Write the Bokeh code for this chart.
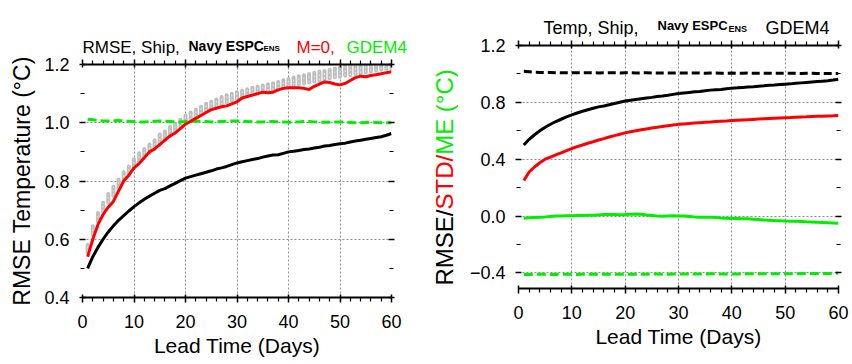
import math
from bokeh.plotting import figure
from bokeh.layouts import row, column
from bokeh.models import Range1d, LinearAxis, FixedTicker, CustomJSTickFormatter
from bokeh.core.properties import value
from bokeh.embed import file_html
from bokeh.resources import INLINE

# ---------------- data ----------------
days = list(range(1, 61))

x_major = [0, 10, 20, 30, 40, 50, 60]
x_minor = [2, 4, 6, 8, 12, 14, 16, 18, 22, 24, 26, 28, 32, 34, 36, 38, 42, 44, 46, 48,
           52, 54, 56, 58]
yl_major = [0.4, 0.6, 0.8, 1.0, 1.2]
yl_minor = [0.5, 0.7, 0.9, 1.1]
yr_major = [-0.4, 0.0, 0.4, 0.8, 1.2]
yr_minor = [-0.2, 0.2, 0.6, 1.0]

# ensemble-mean RMSE (black solid, both panels)
rmse_mean = [0.500, 0.540, 0.572, 0.600, 0.625, 0.646, 0.665, 0.681, 0.697, 0.712,
             0.725, 0.737, 0.748, 0.758, 0.768, 0.774, 0.783, 0.792, 0.801, 0.810,
             0.815, 0.820, 0.825, 0.830, 0.835, 0.841, 0.845, 0.850, 0.856, 0.862,
             0.866, 0.870, 0.874, 0.877, 0.882, 0.886, 0.889, 0.890, 0.895, 0.900,
             0.902, 0.905, 0.908, 0.910, 0.913, 0.916, 0.920, 0.922, 0.925, 0.928,
             0.930, 0.934, 0.937, 0.940, 0.943, 0.946, 0.949, 0.952, 0.957, 0.963]

# control member M=0 RMSE (red, left)
rmse_m0 = [0.540, 0.600, 0.650, 0.685, 0.710, 0.730, 0.765, 0.800, 0.820, 0.845,
           0.860, 0.880, 0.900, 0.910, 0.925, 0.940, 0.955, 0.965, 0.980, 0.995,
           1.005, 1.015, 1.025, 1.035, 1.045, 1.050, 1.055, 1.058, 1.065, 1.072,
           1.085, 1.090, 1.095, 1.100, 1.105, 1.103, 1.105, 1.113, 1.118, 1.120,
           1.120, 1.120, 1.118, 1.114, 1.125, 1.133, 1.140, 1.138, 1.133, 1.130,
           1.135, 1.145, 1.155, 1.160, 1.158, 1.162, 1.165, 1.168, 1.172, 1.175]

# spread of the individual members' RMSE (grey)
ens_lo = [0.555, 0.615, 0.660, 0.695, 0.725, 0.750, 0.775, 0.800, 0.820, 0.845,
          0.865, 0.880, 0.895, 0.910, 0.925, 0.940, 0.955, 0.970, 0.985, 1.000,
          1.010, 1.020, 1.030, 1.040, 1.048, 1.055, 1.062, 1.070, 1.076, 1.082,
          1.088, 1.093, 1.097, 1.100, 1.104, 1.108, 1.112, 1.116, 1.120, 1.124,
          1.128, 1.132, 1.135, 1.138, 1.142, 1.146, 1.150, 1.153, 1.156, 1.158,
          1.161, 1.164, 1.167, 1.170, 1.173, 1.176, 1.179, 1.182, 1.185, 1.187]
ens_hi = [0.580, 0.645, 0.690, 0.725, 0.755, 0.780, 0.805, 0.830, 0.850, 0.875,
          0.895, 0.910, 0.925, 0.940, 0.960, 0.970, 0.985, 0.995, 1.010, 1.025,
          1.035, 1.045, 1.055, 1.065, 1.072, 1.080, 1.088, 1.094, 1.100, 1.106,
          1.110, 1.115, 1.120, 1.124, 1.128, 1.132, 1.136, 1.140, 1.146, 1.150,
          1.155, 1.160, 1.163, 1.167, 1.172, 1.175, 1.178, 1.182, 1.186, 1.190,
          1.193, 1.196, 1.199, 1.202, 1.205, 1.207, 1.209, 1.211, 1.213, 1.215]

# GDEM4 climatology RMSE (green dashed, left)
rmse_gdem4 = [1.012, 1.010, 1.008, 1.006, 1.006, 1.007, 1.008, 1.006, 1.005, 1.004,
              1.003, 1.003, 1.004, 1.005, 1.006, 1.005, 1.004, 1.003, 1.003, 1.004,
              1.005, 1.006, 1.005, 1.004, 1.003, 1.003, 1.004, 1.005, 1.006, 1.006,
              1.005, 1.004, 1.003, 1.003, 1.003, 1.004, 1.004, 1.003, 1.003, 1.002,
              1.002, 1.003, 1.004, 1.004, 1.003, 1.002, 1.002, 1.002, 1.003, 1.003,
              1.002, 1.001, 1.000, 1.000, 1.001, 1.002, 1.001, 1.000, 1.000, 1.000]

# right panel
std_mean = [0.250, 0.310, 0.345, 0.375, 0.400, 0.415, 0.430, 0.445, 0.460, 0.475,
            0.488, 0.500, 0.512, 0.523, 0.535, 0.545, 0.556, 0.566, 0.575, 0.585,
            0.593, 0.600, 0.607, 0.613, 0.619, 0.625, 0.630, 0.635, 0.640, 0.645,
            0.648, 0.651, 0.654, 0.657, 0.660, 0.662, 0.665, 0.667, 0.669, 0.672,
            0.674, 0.676, 0.678, 0.680, 0.682, 0.684, 0.686, 0.688, 0.690, 0.692,
            0.693, 0.695, 0.697, 0.698, 0.700, 0.702, 0.703, 0.704, 0.705, 0.707]
me_mean = [-0.015, -0.012, -0.010, -0.008, -0.006, -0.003, 0.000, 0.001, 0.002, 0.002,
           0.003, 0.004, 0.005, 0.006, 0.008, 0.010, 0.011, 0.010, 0.009, 0.010,
           0.012, 0.014, 0.012, 0.008, 0.004, 0.000, -0.002, 0.000, 0.002, 0.001,
           0.000, -0.003, -0.006, -0.008, -0.008, -0.009, -0.011, -0.014, -0.016, -0.018,
           -0.018, -0.019, -0.020, -0.022, -0.025, -0.028, -0.030, -0.032, -0.033, -0.035,
           -0.036, -0.037, -0.039, -0.041, -0.042, -0.043, -0.045, -0.047, -0.049, -0.051]
rmse_clim = [1.018, 1.015, 1.012, 1.010, 1.009, 1.010, 1.009, 1.008, 1.009, 1.009,
             1.008, 1.008, 1.009, 1.008, 1.007, 1.008, 1.009, 1.008, 1.007, 1.008,
             1.008, 1.007, 1.007, 1.008, 1.007, 1.006, 1.007, 1.007, 1.006, 1.007,
             1.006, 1.006, 1.007, 1.006, 1.005, 1.006, 1.006, 1.005, 1.005, 1.006,
             1.005, 1.005, 1.006, 1.005, 1.004, 1.005, 1.005, 1.004, 1.004, 1.005,
             1.004, 1.004, 1.003, 1.004, 1.004, 1.003, 1.003, 1.003, 1.003, 1.003]
me_clim = [-0.412, -0.411, -0.411, -0.410, -0.410, -0.411, -0.411, -0.410, -0.410, -0.410,
           -0.411, -0.410, -0.410, -0.410, -0.410, -0.409, -0.409, -0.410, -0.410, -0.409,
           -0.409, -0.409, -0.409, -0.409, -0.408, -0.408, -0.409, -0.409, -0.408, -0.408,
           -0.408, -0.408, -0.408, -0.408, -0.408, -0.407, -0.407, -0.408, -0.408, -0.408,
           -0.408, -0.407, -0.407, -0.407, -0.407, -0.407, -0.406, -0.406, -0.406, -0.406,
           -0.406, -0.406, -0.405, -0.405, -0.405, -0.405, -0.404, -0.404, -0.404, -0.403]

x_label = "Lead Time (Days)"
y_label_left = "RMSE Temperature (°C)"

FONT = "Liberation Sans"
RED = "#ff0000"
GREEN = "#00ee00"
GREY = "#bdbdbd"

# advance widths (Arial/Liberation Sans metrics, per em) for stacking coloured pieces
ADV = {"R": .722, "M": .833, "S": .667, "E": .667, "/": .278, "T": .611, "D": .722,
       " ": .278, "(": .333, "°": .400, "C": .722, ")": .333}


def text_width(s, size):
    return sum(ADV.get(c, .556) for c in s) * size


def text_fig(width, height):
    """Blank figure whose data units are its own pixels (y downward), used for text."""
    f = figure(width=width, height=height, output_backend="svg", toolbar_location=None,
               x_range=Range1d(0, width), y_range=Range1d(height, 0),
               x_axis_location=None, y_axis_location=None, min_border=0)
    f.outline_line_color = None
    f.grid.visible = False
    return f


def put(f, x, y, text, size, color="black", style="normal", align="left",
        baseline="alphabetic", angle=0.0):
    f.text(x=[x], y=[y], text=[text], text_font=value(FONT),
           text_font_size=value(f"{size}px"), text_color=color,
           text_font_style=style, text_align=align, text_baseline=baseline,
           angle=angle)


def make_panel(width, height, left, right, top, bottom, yr, ymaj, ymin):
    p = figure(width=width, height=height, output_backend="svg", toolbar_location=None,
               x_range=Range1d(0, 60), y_range=Range1d(*yr),
               min_border_left=left, min_border_right=right,
               min_border_top=top, min_border_bottom=bottom)
    p.outline_line_color = None

    xt = FixedTicker(ticks=x_major, minor_ticks=x_minor)
    yt = FixedTicker(ticks=ymaj, minor_ticks=ymin)
    yfmt = CustomJSTickFormatter(code="""
        var v = Math.abs(tick) < 1e-9 ? 0 : tick;
        return (v < 0 ? '\u2212' : '') + Math.abs(v).toFixed(1);""")
    blank = CustomJSTickFormatter(code="return '';")

    xa = p.xaxis[0]
    xa.ticker = xt
    xa.axis_label = x_label
    xa2 = LinearAxis(ticker=xt, formatter=blank)
    p.add_layout(xa2, "above")
    for a in (xa, xa2):
        a.axis_line_color = "black"
        a.axis_line_width = 2
        a.major_tick_line_color = "black"
        a.major_tick_line_width = 1.5
        a.minor_tick_line_color = "black"
        a.minor_tick_line_width = 1.2
        a.major_tick_out = 5
        a.major_tick_in = 3
        a.minor_tick_out = 4
        a.minor_tick_in = 0
    xa2.major_label_text_font_size = "0px"
    xa2.major_label_standoff = 0
    xa.major_label_text_font = FONT
    xa.major_label_text_font_size = "18px"
    xa.major_label_text_color = "black"
    xa.major_label_standoff = 12
    xa.axis_label_text_font = FONT
    xa.axis_label_text_font_size = "21px"
    xa.axis_label_text_font_style = "normal"
    xa.axis_label_text_color = "black"
    xa.axis_label_standoff = 3

    ya = p.yaxis[0]
    ya.ticker = yt
    ya.formatter = yfmt
    ya2 = LinearAxis(ticker=yt, formatter=blank)
    p.add_layout(ya2, "right")
    for a in (ya, ya2):
        a.axis_line_color = None
        a.major_tick_line_color = "black"
        a.major_tick_line_width = 1.5
        a.minor_tick_line_color = "black"
        a.minor_tick_line_width = 1.2
        a.major_tick_out = 3
        a.major_tick_in = 3
        a.minor_tick_out = 2
        a.minor_tick_in = 2
    ya2.major_label_text_font_size = "0px"
    ya2.major_label_standoff = 0
    ya.major_label_text_font = FONT
    ya.major_label_text_font_size = "18px"
    ya.major_label_text_color = "black"
    ya.major_label_standoff = 10

    p.xgrid.ticker = xt
    p.ygrid.ticker = yt
    for g in (p.xgrid[0], p.ygrid[0]):
        g.grid_line_color = "#8c8c8c"
        g.grid_line_dash = "2 2"
        g.grid_line_width = 1
    return p


# ---------------- left panel ----------------
T1H = 56
t1 = text_fig(430, T1H)
put(t1, 82, 47, "RMSE, Ship,", 17)
put(t1, 188, 45, "Navy ESPC", 14, style="bold")
put(t1, 263, 48, "ENS", 8, style="bold")
put(t1, 296, 47, "M=0,", 17, color=RED)
put(t1, 346, 47, "GDEM4", 17, color=GREEN)

p1 = make_panel(430, 364 - T1H, 82, 39, 64 - T1H, 67, (0.4, 1.2), yl_major, yl_minor)
p1.yaxis[0].axis_label = y_label_left
p1.yaxis[0].axis_label_text_font = FONT
p1.yaxis[0].axis_label_text_font_size = "23px"
p1.yaxis[0].axis_label_text_font_style = "normal"
p1.yaxis[0].axis_label_text_color = "black"
p1.yaxis[0].axis_label_standoff = 6

p1.segment(x0=days, y0=ens_lo, x1=days, y1=ens_hi, line_color=GREY, line_width=4,
           line_cap="round")
p1.segment(x0=days, y0=ens_lo, x1=days, y1=ens_hi, line_color="#e4e4e4", line_width=1,
           line_dash="2 2")
p1.line(days, rmse_gdem4, line_color=GREEN, line_width=3, line_dash="9 4")
p1.line(days, rmse_m0, line_color=RED, line_width=3)
p1.line(days, rmse_mean, line_color="black", line_width=3)

# ---------------- right panel ----------------
T2H = 37
t2 = text_fig(422, T2H)
put(t2, 113, 27, "Temp, Ship,", 18)
put(t2, 227, 25, "Navy ESPC", 13, style="bold")
put(t2, 298, 28, "ENS", 9, style="bold")
put(t2, 335, 27, "GDEM4", 18)

P2H = 364 - T2H
yl2 = text_fig(28, P2H)
ysize = 24
ypos = 285.0 - T2H
for piece, col in (("RMSE/", "black"), ("STD/", RED), ("ME (°C)", GREEN)):
    put(yl2, 14, ypos, piece, ysize, color=col, align="left", baseline="middle",
        angle=math.pi / 2)
    ypos -= text_width(piece, ysize)

p2 = make_panel(394, P2H, 60, 14, 45 - T2H, 76, (-0.51, 1.2), yr_major, yr_minor)
p2.line(days, rmse_clim, line_color="black", line_width=3, line_dash="8 4")
p2.line(days, me_clim, line_color=GREEN, line_width=3, line_dash="9 4")
p2.line(days, me_mean, line_color=GREEN, line_width=3)
p2.line(days, std_mean, line_color=RED, line_width=3)
p2.line(days, rmse_mean, line_color="black", line_width=3)

layout = row(column(row(t1), p1), column(row(t2), row(column(yl2), p2)))
open("out.html", "w").write(file_html(layout, INLINE))
